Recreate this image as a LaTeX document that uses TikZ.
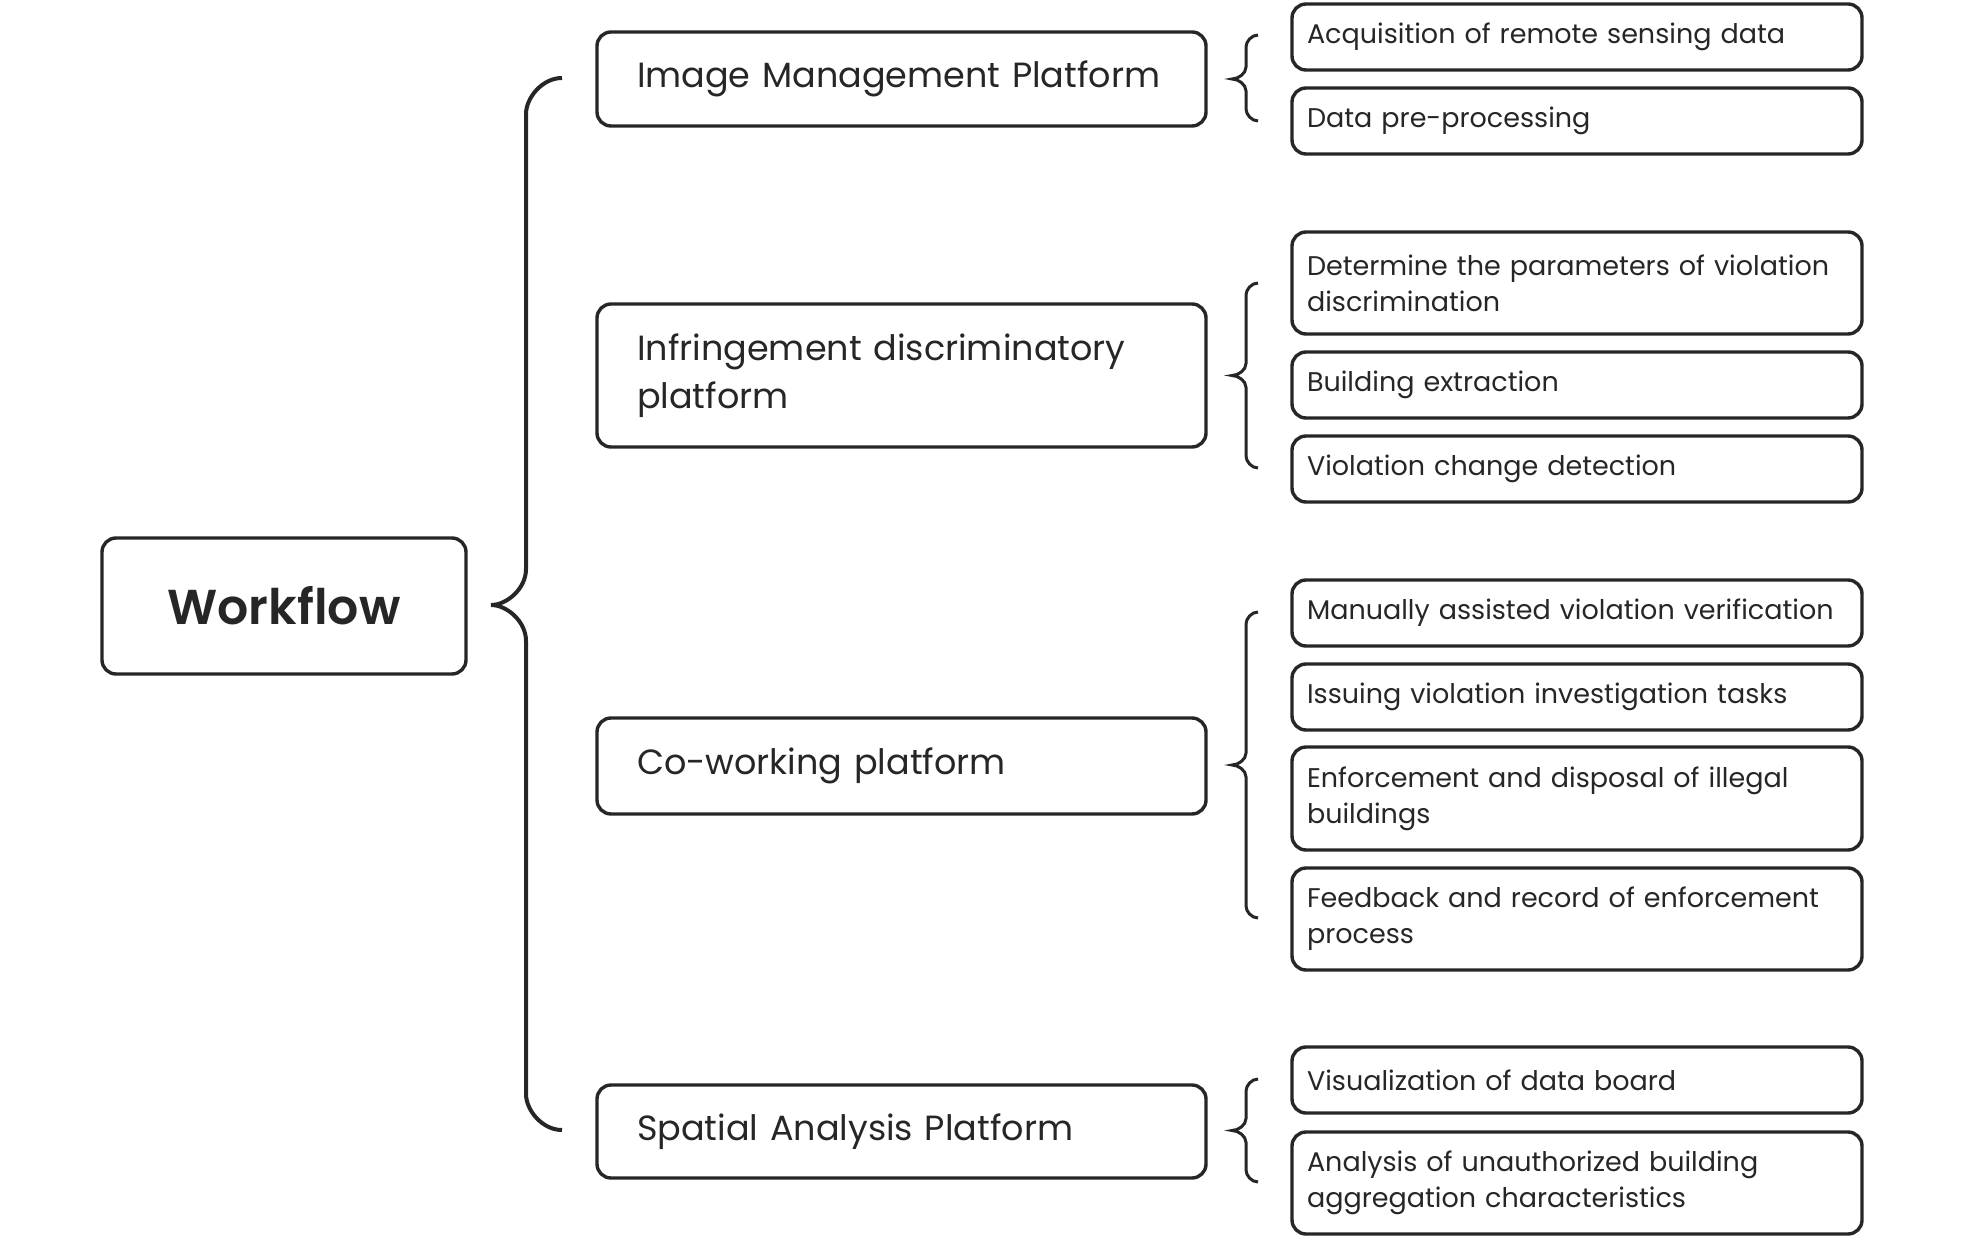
\documentclass[tikz,border=0pt]{standalone}
\usepackage{fontspec}
\setmainfont{Poppins}
\newfontfamily\wffont{Poppins SemiBold}
\definecolor{ink}{HTML}{262626}
\newcommand\curlyb[8]{%
  % #1 xend, #2 xv, #3 xtip, #4 ytop, #5 ymid, #6 ybot, #7 r, #8 style
  \draw[#8] (#1,#4) .. controls ({#1-0.55*#7},#4) and (#2,{#4+0.55*#7}) .. (#2,{#4+#7})
    -- (#2,{#5-#7}) .. controls (#2,{#5-0.45*#7}) and ({#3+0.45*(#2-#3)},#5) .. (#3,#5)
    .. controls ({#3+0.45*(#2-#3)},#5) and (#2,{#5+0.45*#7}) .. (#2,{#5+#7})
    -- (#2,{#6-#7}) .. controls (#2,{#6-0.55*#7}) and ({#1-0.55*#7},#6) .. (#1,#6);}
\newcommand\lowered[1]{\raisebox{-1.4pt}{#1}}
\newcommand\nohyph{\hyphenpenalty=10000\relax}
\begin{document}
\begin{tikzpicture}[x=0.5pt,y=-0.5pt,
  basebox/.style={draw=ink, line width=1.7pt, rounded corners=7pt, text=ink, inner ysep=0pt, align=left, anchor=center},
  plat/.style={basebox, minimum width=304.5pt, text width=264.5pt, inner xsep=20pt, font={\fontsize{17.5}{24}\selectfont\nohyph}},
  leaf/.style={basebox, minimum width=285pt, text width=270pt, inner xsep=7.5pt, font={\fontsize{13.5}{18}\selectfont\nohyph}},
  root/.style={basebox, minimum width=182pt, minimum height=68pt, align=center, inner xsep=0pt, font={\fontsize{24.5}{28}\wffont}},
  bigbr/.style={draw=ink, line width=2pt},
  smbr/.style={draw=ink, line width=1.5pt}]
\useasboundingbox (0,0) rectangle (1962,1240);
\node[root] (wf) at (284,606) {Workflow};
\node[plat, minimum height=47pt] (img) at (901.5,79) {\lowered{Image Management Platform}};
\node[plat, minimum height=71.5pt] (inf) at (901.5,375.5) {Infringement discriminatory\\platform};
\node[plat, minimum height=48pt] (cow) at (901.5,766) {\lowered{Co-working platform}};
\node[plat, minimum height=46.5pt] (spa) at (901.5,1131.5) {\lowered{Spatial Analysis Platform}};
\node[leaf, minimum height=33pt] (acq) at (1577,37) {\lowered{Acquisition of remote sensing data}};
\node[leaf, minimum height=33pt] (dat) at (1577,121) {\lowered{Data pre-processing}};
\node[leaf, minimum height=51pt] (det) at (1577,283) {Determine the parameters of violation\\discrimination};
\node[leaf, minimum height=33pt] (bld) at (1577,385) {\lowered{Building extraction}};
\node[leaf, minimum height=33pt] (vio) at (1577,469) {\lowered{Violation change detection}};
\node[leaf, minimum height=33pt] (man) at (1577,613) {\lowered{Manually assisted violation verification}};
\node[leaf, minimum height=33pt] (iss) at (1577,697) {\lowered{Issuing violation investigation tasks}};
\node[leaf, minimum height=51.5pt] (enf) at (1577,798.5) {Enforcement and disposal of illegal\\buildings};
\node[leaf, minimum height=51pt] (fee) at (1577,919) {Feedback and record of enforcement\\process};
\node[leaf, minimum height=33pt] (vis) at (1577,1080) {\lowered{Visualization of data board}};
\node[leaf, minimum height=51pt] (ana) at (1577,1183) {Analysis of unauthorized building\\aggregation characteristics};
\curlyb{562}{526}{491}{78}{605}{1130}{36}{bigbr}
\curlyb{1258}{1246}{1232}{35}{79}{121}{12}{smbr}
\curlyb{1258}{1246}{1232}{283}{375.5}{468}{12}{smbr}
\curlyb{1258}{1246}{1232}{612}{765}{918}{12}{smbr}
\curlyb{1258}{1246}{1232}{1079}{1130.5}{1182}{12}{smbr}
\end{tikzpicture}
\end{document}
